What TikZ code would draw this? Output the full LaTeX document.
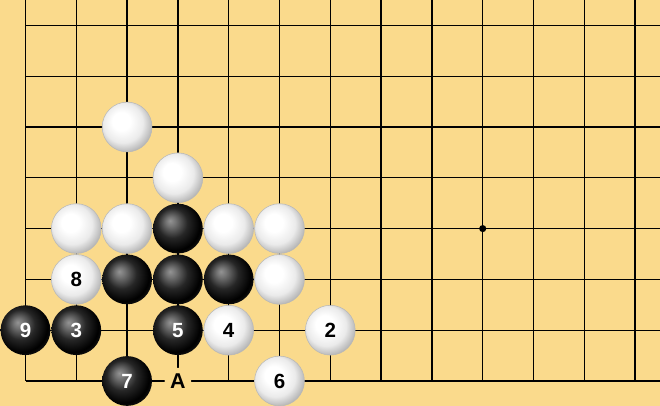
\documentclass[tikz,border=0pt]{standalone}
\usepackage{fontspec}
\setsansfont{Liberation Sans}
\usetikzlibrary{arrows}
\definecolor{board}{RGB}{250,218,140}
\pgfdeclareradialshading{whiteball}{\pgfpoint{-7bp}{7bp}}{color(0bp)=(white); color(9bp)=(white); color(20bp)=(black!8); color(29bp)=(black!30); color(34bp)=(black!42); color(50bp)=(black!42)}
\pgfdeclareradialshading{blackball}{\pgfpoint{-8bp}{8bp}}{color(0bp)=(black!42); color(5bp)=(black!55); color(15bp)=(black!85); color(26bp)=(black); color(34bp)=(black!85); color(50bp)=(black!85)}

\begin{document}
\begin{tikzpicture}[font=\sffamily\bfseries,
  wstone/.style={circle, minimum size=0.98cm, inner sep=0pt, shading=whiteball, draw=black!28, line width=0.3pt, text=black, font=\sffamily\bfseries\fontsize{11.5}{13}\selectfont},
  bstone/.style={circle, minimum size=0.98cm, inner sep=0pt, shading=blackball, text=white, font=\sffamily\bfseries\fontsize{11.5}{13}\selectfont},
  letter/.style={circle, fill=board, minimum size=0.52cm, inner sep=0pt, font=\sffamily\bfseries\fontsize{12}{13}\selectfont}]
\fill[board] (-0.502, -0.492) rectangle (12.49, 7.5);
\useasboundingbox (-0.502, -0.492) rectangle (12.49, 7.5);
\draw[step=1cm, line width=0.75pt] (0, 0) grid (12.49, 7.5);
\fill (9, 3) circle (0.07);

\node[wstone] (w1) at (2, 5) {};
\node[wstone] (w2) at (3, 4) {};
\node[wstone] (w3) at (1, 3) {};
\node[wstone] (w4) at (2, 3) {};
\node[bstone] (b1) at (3, 3) {};
\node[wstone] (w5) at (4, 3) {};
\node[wstone] (w6) at (5, 3) {};

\node[wstone] (m8) at (1, 2) {8};
\node[bstone] (b2) at (2, 2) {};
\node[bstone] (b3) at (3, 2) {};
\node[bstone] (b4) at (4, 2) {};
\node[wstone] (w7) at (5, 2) {};

\node[bstone] (m9) at (0, 1) {9};
\node[bstone] (m3) at (1, 1) {3};
\node[bstone] (m5) at (3, 1) {5};
\node[wstone] (m4) at (4, 1) {4};
\node[wstone] (m2) at (6, 1) {2};

\node[bstone] (m7) at (2, 0) {7};
\node[letter] (ptA) at (3, 0) {A};
\node[wstone] (m6) at (5, 0) {6};

\end{tikzpicture}
\end{document}
